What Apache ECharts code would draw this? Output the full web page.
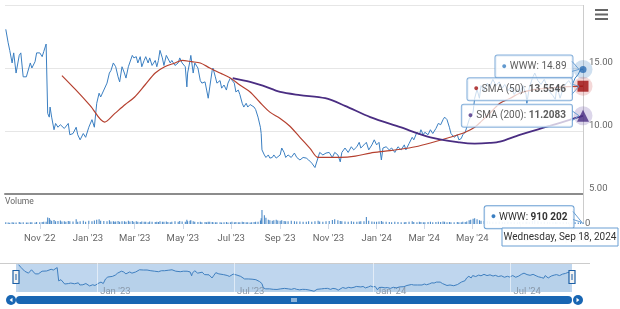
<!DOCTYPE html>
<html><head><meta charset="utf-8">
<script src="https://cdn.jsdelivr.net/npm/echarts@6/dist/echarts.min.js"></script>
<style>html,body{margin:0;padding:0;background:#fff}#c{width:620px;height:309px}</style>
</head><body><div id="c"></div>
<script>
// ---------- data ----------
const startDate = '2022-09-18';           // day 0 of the day offsets below
const seriesName = 'WWW';
const smaNames = ['SMA (50)', 'SMA (200)'];
const headerText = 'Wednesday, Sep 18, 2024';

const priceDays = [
  1,4,6,9,11,14,18,20,23,27, 29,32,34,38,40,44,47,49,52,54,
  56,57,59,62,64,67,70,72,75,77, 80,82,86,90,92,95,99,102,106,110,
  113,116,119,121,125,129,132,134,137,138, 140,143,145,148,151,153,156,158,161,163,
  166,168,171,173,176,178,181,183,186,190, 192,194,196,199,201,204,206,209,211,215,
  219,221,224,228,230,231,234,235,238,240, 244,247,249,253,255,257,259,262,263,266,
  268,272,274,277,280,282,285,287,290,292, 295,297,300,302,305,307,310,312,315,317,
  320,323,324,325,328,330,333,335,338,340, 343,345,348,350,353,355,358,362,366,369,
  373,377,381,384,388,392,396,398,402,406, 410,414,417,421,424,426,430,434,438,441,
  445,448,450,454,457,460,464,467,470,473, 476,478,482,486,489,493,497,501,505,507,
  511,515,517,521,524,526,529,531,535,538, 541,545,548,551,554,556,559,562,564,568,
  572,574,577,579,582,584,587,589,592,594, 597,600,602,606,610,613,617,621,625,629,
  632,636,640,644,648,651,655,659,660,663, 667,670,674,678,682,686,689,693,696,698,
  702,706,710,713,717,721,725,728,731
];
const priceValues = [
  18.07,17.0,16.4,15.4,16.2,14.6,16.0,16.2,14.3,14.3, 14.2,15.4,15.0,15.5,16.2,16.2,15.9,16.3,16.9,11.4,
  11.1,11.9,11.1,10.1,10.6,10.3,10.5,10.5,10.2,10.3, 10.6,9.7,9.8,10.3,9.7,9.3,9.8,9.5,10.3,10.9,
  10.3,12.2,13.0,12.7,13.25,13.8,14.6,14.8,15.4,15.5, 15.1,14.3,13.9,15.1,14.6,14.2,15.1,15.2,16.0,15.8,
  15.9,15.4,15.9,15.1,15.6,15.9,15.4,15.8,15.2,15.6, 15.1,15.6,16.4,15.8,15.2,16.0,15.9,15.4,15.6,15.2,
  15.4,15.8,15.4,15.1,13.5,14.6,15.6,16.0,14.6,15.4, 15.0,14.0,13.8,13.9,13.25,12.6,13.5,14.8,15.0,14.3,
  13.8,14.0,13.4,13.65,13.25,13.8,14.2,14.3,13.8,13.1, 13.25,12.9,12.2,11.9,12.2,11.9,12.1,12.2,11.9,11.7,
  11.1,10.3,9.8,8.5,8.1,7.9,8.1,7.85,7.9,8.1, 7.85,7.9,8.1,8.65,8.3,7.9,8.1,7.9,8.25,7.9,
  7.7,7.9,7.85,7.7,7.45,7.1,7.9,8.3,8.1,8.25, 8.3,7.9,8.3,8.1,7.55,8.3,8.65,8.3,8.75,8.5,
  8.75,9.1,8.65,8.9,9.1,8.5,8.9,9.3,8.9,9.1, 7.7,8.65,8.75,8.5,8.65,8.3,8.75,8.5,8.9,8.5,
  9.0,9.5,9.3,9.9,9.7,10.1,9.7,9.9,9.7,10.1, 9.8,10.2,10.6,10.5,10.9,11.1,10.9,10.3,9.8,9.5,
  9.7,9.3,9.4,9.7,9.9,10.3,10.9,11.0,11.5,12.6, 13.3,12.6,13.6,13.2,13.8,13.5,14.1,13.6,13.9,13.4,
  13.7,13.2,13.5,12.9,13.3,13.0,13.6,12.9,12.2,13.4, 14.2,14.6,14.0,13.7,14.1,13.5,13.1,12.8,12.5,13.6,
  12.6,13.4,13.8,14.0,13.6,14.2,14.5,14.9,14.89
];
const volumeValues = [
  1100000,950000,800000,1000000,850000,900000,1200000,950000,1000000,880000,
  900000,1000000,1100000,950000,1200000,1050000,1150000,1300000,1400000,3900000,
  3600000,2500000,2000000,2400000,1700000,1800000,2100000,1500000,1600000,1400000,
  1800000,1700000,1500000,2800000,1400000,1600000,1900000,1300000,2000000,1700000,
  2100000,2600000,2900000,1900000,1800000,1600000,2200000,1500000,1700000,1400000,
  1500000,1800000,1300000,1600000,1700000,1400000,1900000,1500000,1800000,1300000,
  1600000,1400000,1200000,1500000,1300000,1400000,1100000,1500000,1300000,1200000,
  1300000,1200000,1700000,1400000,1300000,1500000,1200000,1100000,1300000,1600000,
  1400000,1800000,1500000,1300000,2600000,1700000,1900000,2200000,1600000,1400000,
  1200000,1300000,1100000,1200000,1000000,1400000,1300000,1200000,1000000,1100000,
  1000000,1100000,900000,1000000,1200000,950000,1100000,1300000,1000000,1200000,
  1100000,1000000,1300000,1200000,1000000,1100000,950000,1000000,1200000,1300000,
  1400000,2100000,3500000,8400000,5200000,3800000,2600000,2300000,2000000,2200000,
  2500000,2100000,1900000,2200000,1800000,1700000,1600000,1900000,1700000,1500000,
  1500000,1400000,1300000,1600000,1400000,1700000,2000000,1500000,1400000,1600000,
  1800000,2400000,2900000,2200000,1800000,1600000,1500000,1400000,1600000,1300000,
  1400000,1500000,1600000,1700000,4200000,1900000,1500000,1400000,1300000,1500000,
  1800000,1400000,1300000,1200000,1100000,1300000,1200000,1000000,1100000,1200000,
  1300000,1600000,1200000,1100000,1400000,1200000,1000000,1100000,1200000,1300000,
  1100000,1200000,1400000,1200000,1500000,1300000,1100000,1200000,1000000,1100000,
  1200000,1100000,1000000,1300000,1200000,1500000,2200000,2600000,3100000,3500000,
  2800000,2200000,2000000,1800000,1600000,1500000,1400000,1300000,1500000,1200000,
  1100000,1300000,1200000,1000000,1100000,1200000,1000000,1300000,1400000,1100000,
  1800000,2600000,1700000,1400000,1300000,1200000,1100000,1000000,1200000,1100000,
  1000000,1100000,1200000,950000,1000000,1100000,900000,1000000,910202
];
const sma50Days = [72,89,108,126,139,152,164,177,190,202,215,224,236,247,259,272,285,297,310,322,335,348,360,373,386,396,411,424,443,462,481,500,519,538,563,582,594,603,613,626,639,651,670,689,708,731];
const sma50Values = [14.4,13.3,12.0,10.7,11.4,12.1,12.7,13.65,14.6,15.1,15.4,15.6,15.5,15.4,15.0,14.6,14.2,13.65,13.1,12.3,11.5,11.0,10.4,9.5,8.6,7.9,7.9,7.9,8.0,8.25,8.4,8.55,8.75,9.05,9.5,9.9,10.3,10.8,11.4,12.2,12.6,13.0,13.3,13.4,13.5,13.5546];
const sma200Days = [288,310,326,348,373,405,430,462,500,538,575,594,613,626,651,689,715,731];
const sma200Values = [14.2,13.9,13.6,13.1,12.85,12.6,12.0,11.1,10.3,9.5,9.1,9.0,9.05,9.15,9.7,10.4,10.9,11.2083];

const tickDates = ['2022-11-01','2023-01-01','2023-03-01','2023-05-01','2023-07-01','2023-09-01','2023-11-01','2024-01-01','2024-03-01','2024-05-01','2024-07-01','2024-09-01'];
const tickLabels = ["Nov '22","Jan '23","Mar '23","May '23","Jul '23","Sep '23","Nov '23","Jan '24","Mar '24","May '24","Jul '24","Sep '24"];
const navTickDates = ['2023-01-01','2023-07-01','2024-01-01','2024-07-01'];
const navTickLabels = ["Jan '23","Jul '23","Jan '24","Jul '24"];
const priceAxis = {min: 5, max: 20, step: 5};
const volumeAxisMax = 18000000;

// ---------- build ----------
const DAY = 86400000;
const t0 = Date.parse(startDate + 'T00:00:00Z');
const dayOf = s => Math.round((Date.parse(s + 'T00:00:00Z') - t0) / DAY);
const pairs = (days, vals) => days.map((d, i) => [d, vals[i]]);
const xMin = 0, xMax = priceDays[priceDays.length - 1];
const tickTs = tickDates.map(dayOf);
const navTs = navTickDates.map(dayOf);
const lookup = (list, labels) => v => { const i = list.findIndex(t => Math.abs(t - v) < 0.5); return i < 0 ? '' : labels[i]; };

const pricePairs = pairs(priceDays, priceValues);
const sma50Pairs = pairs(sma50Days, sma50Values);
const sma200Pairs = pairs(sma200Days, sma200Values);
const volPairs = pairs(priceDays, volumeValues);

const lastP = pricePairs[pricePairs.length - 1];
const last50 = sma50Pairs[sma50Pairs.length - 1];
const last200 = sma200Pairs[sma200Pairs.length - 1];
const lastV = volPairs[volPairs.length - 1];

const C_PRICE = '#3b7fc2', C_50 = '#b5402f', C_200 = '#4a2d82';
const BOX_BORDER = '#6a9fd3';
const FS = 10;
const fmtSpace = n => String(n).replace(/\B(?=(\d{3})+(?!\d))/g, ' ');

const boxLabel = (text, dist, dy) => ({
  show: true, position: 'left', distance: dist, offset: [0, dy],
  formatter: text,
  backgroundColor: 'rgba(255,255,255,0.92)', borderColor: BOX_BORDER, borderWidth: 1,
  borderRadius: 2, padding: [5, 6, 5, 6],
  rich: {
    d1: {color: C_PRICE, fontSize: 9}, d2: {color: '#a01010', fontSize: 9}, d3: {color: C_200, fontSize: 9},
    n: {color: '#333', fontSize: FS, fontFamily: 'Roboto'},
    b: {color: '#333', fontSize: FS, fontWeight: 'bold', fontFamily: 'Roboto'}
  }
});

const markerData = [
  {value: lastP, symbol: 'circle', symbolSize: 7, itemStyle: {color: '#2a6db4'},
   label: boxLabel('{d1|●} {n|' + seriesName + ': ' + lastP[1].toFixed(2) + '}', 7, -3)},
  {value: last50, symbol: 'rect', symbolSize: 11, itemStyle: {color: '#9e0c0c'},
   label: boxLabel('{d2|●} {n|' + smaNames[0] + ': }{b|' + last50[1] + '}', 5.5, 3)},
  {value: last200, symbol: 'triangle', symbolSize: 12, itemStyle: {color: C_200},
   label: boxLabel('{d3|●} {n|' + smaNames[1] + ': }{b|' + last200[1] + '}', 5, 0)}
];
const haloData = [
  {value: lastP, itemStyle: {color: 'rgba(59,127,194,0.3)'}},
  {value: last50, itemStyle: {color: 'rgba(200,60,60,0.25)'}},
  {value: last200, itemStyle: {color: 'rgba(100,70,160,0.28)'}}
];

const volData = volPairs.map((p, i) => i === volPairs.length - 1 ? {
  value: p,
  label: boxLabel('{d1|●} {n|' + seriesName + ': }{b|' + fmtSpace(p[1]) + '}', 9, -6)
} : p);

const crossLine = {silent: true, symbol: 'none', label: {show: false}, animation: false,
  lineStyle: {color: '#cccccc', type: 'solid', width: 1}, data: [{xAxis: xMax}]};

const chart = echarts.init(document.getElementById('c'), null, {renderer: 'canvas'});
chart.setOption({
  animation: false,
  backgroundColor: '#ffffff',
  textStyle: {fontFamily: 'Roboto'},
  grid: [
    {left: 5, right: 37, top: 5, height: 189},
    {left: 5, right: 37, top: 194, height: 30},
    {left: 16, right: 48, top: 263, height: 29, show: true, backgroundColor: '#bfd6ee', borderWidth: 0}
  ],
  xAxis: [
    {type: 'value', gridIndex: 0, min: xMin, max: xMax, axisLabel: {show: false}, axisTick: {show: false},
     splitLine: {show: false}, axisLine: {show: true, onZero: false, lineStyle: {color: '#8c8c8c', width: 2}}},
    {type: 'value', gridIndex: 1, min: xMin, max: xMax, axisLine: {show: false, onZero: false},
     axisTick: {show: true, customValues: tickTs, length: 5, lineStyle: {color: '#cfd8e6'}},
     axisLabel: {customValues: tickTs, formatter: lookup(tickTs, tickLabels), color: '#666', fontSize: 9.5, margin: 10,
       showMinLabel: true, showMaxLabel: true, hideOverlap: false},
     splitLine: {show: false}},
    {type: 'value', gridIndex: 2, min: -2.5, max: xMax + 2.5, axisLine: {show: false, onZero: false}, axisTick: {show: false},
     axisLabel: {customValues: navTs, formatter: lookup(navTs, navTickLabels), align: 'left', color: '#8e9aa8',
       fontSize: 9.5, margin: -5, padding: [0, 0, 0, 3], hideOverlap: false},
     splitLine: {show: false}}
  ],
  yAxis: [
    {type: 'value', gridIndex: 0, position: 'right', min: priceAxis.min, max: priceAxis.max, interval: priceAxis.step,
     axisLine: {show: false}, axisTick: {show: false}, splitLine: {lineStyle: {color: '#e6e6e6'}},
     axisLabel: {formatter: v => v.toFixed(2), showMaxLabel: false, color: '#666', fontSize: 9.5, margin: 6, verticalAlign: 'bottom'}},
    {type: 'value', gridIndex: 1, position: 'right', min: 0, max: volumeAxisMax, interval: volumeAxisMax,
     axisLine: {show: false}, axisTick: {show: false}, splitLine: {show: false},
     axisLabel: {formatter: v => v === 0 ? '0' : '', showMaxLabel: false, color: '#666', fontSize: 9.5, margin: 2}},
    {type: 'value', gridIndex: 2, min: 6.8, max: 18.8, show: false}
  ],
  series: [
    {type: 'line', name: seriesName, xAxisIndex: 0, yAxisIndex: 0, data: pricePairs, symbol: 'none',
     lineStyle: {color: C_PRICE, width: 1}, z: 3, markLine: crossLine},
    {type: 'line', name: smaNames[0], xAxisIndex: 0, yAxisIndex: 0, data: sma50Pairs, symbol: 'none', smooth: 0.3,
     lineStyle: {color: C_50, width: 1.2}, z: 4},
    {type: 'line', name: smaNames[1], xAxisIndex: 0, yAxisIndex: 0, data: sma200Pairs, symbol: 'none', smooth: 0.3,
     lineStyle: {color: C_200, width: 1.8}, z: 4},
    {type: 'bar', name: 'Volume', xAxisIndex: 1, yAxisIndex: 1, data: volData, barWidth: 1,
     itemStyle: {color: C_PRICE}, markLine: crossLine, z: 6},
    {type: 'line', name: 'nav', xAxisIndex: 2, yAxisIndex: 2, data: pricePairs, symbol: 'none',
     lineStyle: {color: '#3f7fbf', width: 1}, areaStyle: {color: 'rgba(63,127,191,0.08)'},
     markLine: {silent: true, symbol: 'none', label: {show: false},
       lineStyle: {color: 'rgba(255,255,255,0.55)', type: 'solid', width: 1}, data: navTs.map(t => ({xAxis: t}))}},
    {type: 'scatter', xAxisIndex: 0, yAxisIndex: 0, data: haloData, symbolSize: 19, z: 7, silent: true},
    {type: 'scatter', xAxisIndex: 0, yAxisIndex: 0, data: markerData, z: 8, silent: true}
  ]
});

// ---------- chrome: pointers, header, menu, navigator handles, scrollbar ----------
const px = (v, g) => chart.convertToPixel({xAxisIndex: g, yAxisIndex: g}, v);
const a1 = px(lastP, 0), a2 = px(last50, 0), a3 = px(last200, 0), av = px(lastV, 1);
const pointer = (a, dy, gap) => ({type: 'polyline', z: 100,
  shape: {points: [[a[0] - gap, a[1] + dy - 5], [a[0] - 4, a[1]], [a[0] - gap, a[1] + dy + 5]]},
  style: {stroke: BOX_BORDER, fill: null, lineWidth: 1}});
const hdrW = 116, hdrH = 18;
const hdrX = Math.min(av[0] - hdrW / 2, 620 - hdrW - 2);
const scrollC = '#1866b3';
chart.setOption({graphic: [
  pointer(a1, -3, 11), pointer(a2, 3, 11), pointer(a3, 0, 11),
  {type: 'polyline', z: 100, shape: {points: [[av[0] - 10, av[1] - 11], [av[0] - 1, av[1]], [av[0] - 10, av[1] - 3]]},
   style: {stroke: BOX_BORDER, fill: null, lineWidth: 1}},
  {type: 'rect', z: 100, shape: {x: hdrX, y: 228, width: hdrW, height: hdrH},
   style: {fill: 'rgba(255,255,255,0.96)', stroke: BOX_BORDER, lineWidth: 1}},
  {type: 'text', z: 101, style: {x: hdrX + hdrW / 2, y: 228 + hdrH / 2 + 0.5, text: headerText, align: 'center', verticalAlign: 'middle',
   fill: '#333', font: '10px Roboto'}},
  {type: 'text', style: {x: 5, y: 202, text: 'Volume', verticalAlign: 'middle', fill: '#666', font: '8.5px Roboto'}},
  {type: 'rect', shape: {x: 595, y: 9, width: 13, height: 2}, style: {fill: '#666'}},
  {type: 'rect', shape: {x: 595, y: 13.5, width: 13, height: 2}, style: {fill: '#666'}},
  {type: 'rect', shape: {x: 595, y: 18, width: 13, height: 2}, style: {fill: '#666'}},
  {type: 'line', shape: {x1: 0, y1: 263.5, x2: 590, y2: 263.5}, style: {stroke: '#cccccc', lineWidth: 1}},
  {type: 'rect', z: 50, shape: {x: 13, y: 270.5, width: 6, height: 13}, style: {fill: '#f2f2f2', stroke: '#1b5fa6', lineWidth: 1.2}},
  {type: 'rect', z: 50, shape: {x: 569, y: 270.5, width: 6, height: 13}, style: {fill: '#f2f2f2', stroke: '#1b5fa6', lineWidth: 1.2}},
  {type: 'line', z: 51, shape: {x1: 16, y1: 274, x2: 16, y2: 280}, style: {stroke: '#1b5fa6', lineWidth: 1}},
  {type: 'line', z: 51, shape: {x1: 572, y1: 274, x2: 572, y2: 280}, style: {stroke: '#1b5fa6', lineWidth: 1}},
  {type: 'rect', shape: {x: 16, y: 296, width: 556, height: 8, r: 4}, style: {fill: scrollC}},
  {type: 'circle', shape: {cx: 11, cy: 300, r: 5}, style: {fill: scrollC}},
  {type: 'circle', shape: {cx: 578, cy: 300, r: 5}, style: {fill: scrollC}},
  {type: 'polygon', shape: {points: [[12.5, 297.8], [9.6, 300], [12.5, 302.2]]}, style: {fill: '#fff'}},
  {type: 'polygon', shape: {points: [[576.5, 297.8], [579.4, 300], [576.5, 302.2]]}, style: {fill: '#fff'}},
  {type: 'line', shape: {x1: 292, y1: 298, x2: 292, y2: 302}, style: {stroke: '#fff', lineWidth: 1}},
  {type: 'line', shape: {x1: 294, y1: 298, x2: 294, y2: 302}, style: {stroke: '#fff', lineWidth: 1}},
  {type: 'line', shape: {x1: 296, y1: 298, x2: 296, y2: 302}, style: {stroke: '#fff', lineWidth: 1}}
]});
</script>
</body></html>
